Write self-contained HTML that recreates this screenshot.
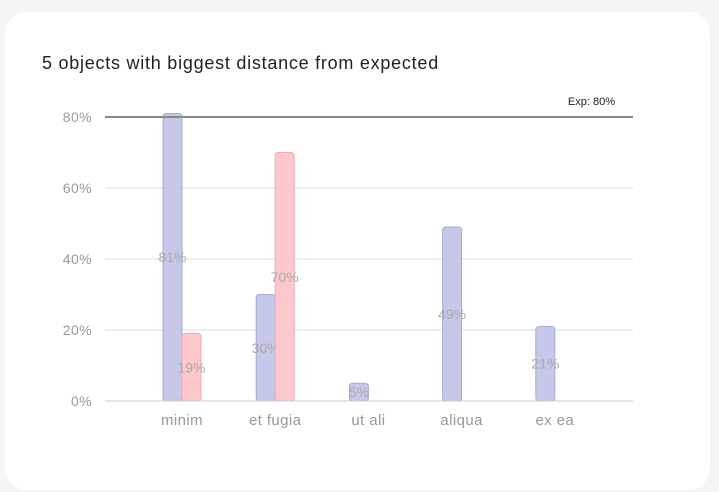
<!DOCTYPE html>
<html><head><meta charset="utf-8"><style>
body{margin:0;background:#f5f5f5;width:719px;height:492px;overflow:hidden;font-family:"Liberation Sans",sans-serif}
#card{position:absolute;left:5px;top:12px;width:705px;height:478px;background:#fff;border-radius:22px}
</style></head><body>
<div id="card"></div>
<svg id="c" width="719" height="492" style="position:absolute;left:0;top:0">
<text x="42" y="69" font-size="18" letter-spacing="0.75" fill="#222">5 objects with biggest distance from expected</text>
</svg>
<script>
const categories=["minim","et fugia","ut ali","aliqua","ex ea"];
const actualValues=[81,30,5,49,21];
const otherValues=[19,70,0,0,0];
const yTicks=[0,20,40,60,80];
const expected=80;
const svg=document.getElementById('c');const NS='http://www.w3.org/2000/svg';
const x0=105,x1=633,y0=401,yTop=117;
function y(v){return y0-(v/80)*(y0-yTop);}
function xc(i){return 182+i*93.2;}
function el(t,a){const e=document.createElementNS(NS,t);for(const k in a)e.setAttribute(k,a[k]);svg.appendChild(e);return e;}
yTicks.forEach(t=>{
 const l=el('line',{x1:x0,x2:x1,y1:y(t),y2:y(t),stroke:'#ddd','stroke-width':1});
 
 
 const tx=el('text',{x:92,y:y(t)+5,'text-anchor':'end','font-size':14,fill:'#999','letter-spacing':0.4});tx.textContent=t+'%';
 
 
});
const bw=19;
function bar(v,x,fill,stroke,name){
 if(v<=0)return;
 const r=el('rect',{x:x,y:y(v),width:bw,height:y0-y(v),rx:3,fill:fill,stroke:stroke,'stroke-width':1});
 
 
 const t=el('text',{x:x+bw/2,y:(y(v)+y0)/2+5,'text-anchor':'middle','font-size':14,fill:'#aaa'});t.textContent=v+'%';
 
 
}
categories.forEach((c,i)=>{
 bar(actualValues[i],xc(i)-bw,'#c5c8e8','#a5aad8','bar-actual-'+i);
 bar(otherValues[i],xc(i),'#fdc8cb','#f3a9ad','bar-other-'+i);
 const t=el('text',{x:xc(i),y:425,'text-anchor':'middle','font-size':15,fill:'#999','letter-spacing':0.4});t.textContent=c;
 
 
});
const ax=el('line',{x1:x0,x2:x1,y1:y0,y2:y0,stroke:'#ccc'});


const ex=el('line',{x1:x0,x2:x1,y1:y(expected),y2:y(expected),stroke:'#888','stroke-width':2});


const et=el('text',{x:615,y:y(expected)-12,'text-anchor':'end','font-size':11,fill:'#222'});et.textContent='Exp: '+expected+'%';


</script>
</body></html>
